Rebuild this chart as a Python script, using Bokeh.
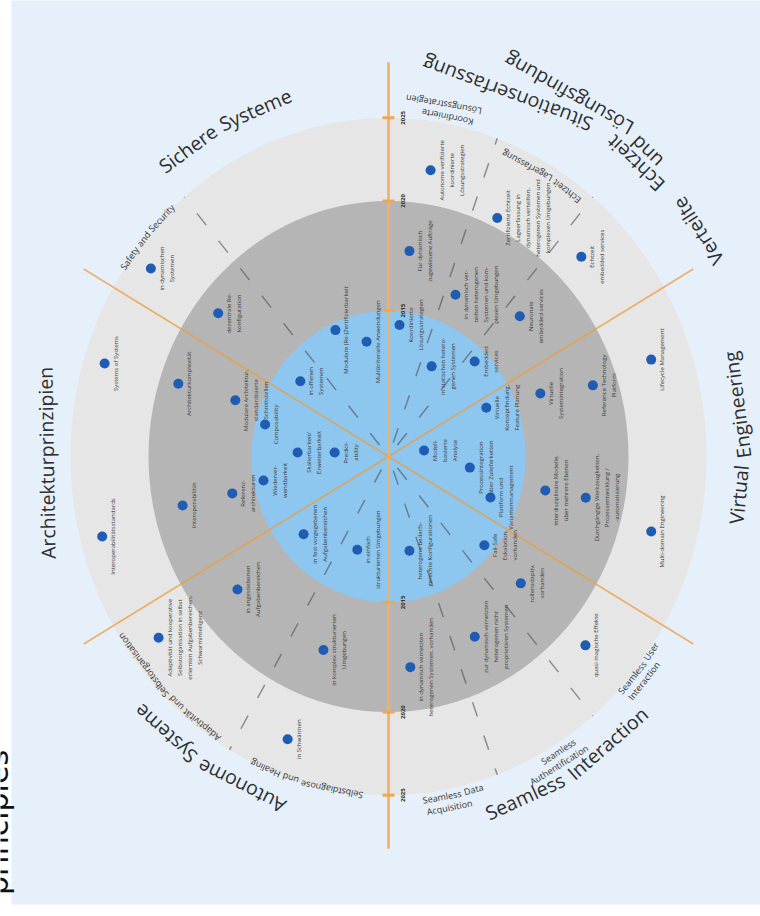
import math
import numpy as np
from bokeh.plotting import figure
from bokeh.models import Range1d
from bokeh.embed import file_html
from bokeh.resources import INLINE
from bokeh.core.properties import value

# ---------------- data ----------------
ring_years = ["2015", "2020", "2025"]
ring_radius = [137, 240, 318]

spoke_angles = [90, 150, 210, 270, 330, 30]
spoke_length = [370, 352, 352, 368, 352, 352]
dash_angles = [50, 70, 130, 240, 290, 310]

dot_angle = [81.1, 64.1, 44.2, 83.8, 66.2, 45.1, 84.9, 63.0, 46.0,
             25.1, 21.3, 18.1, 19.1, 8.9, -7.3, -20.7, -11.5, -11.1, -15.0,
             -41.0, -42.0, -76.7, -63.0, -83.7, -42.0,
             250.4, 220.7, 219.6, 250.3, 249.2, 216.5,
             190.2, 192.5, 192.6, 194.7, 176.0, 177.6, 166.3, 161.0, 162.0, 162.9,
             114.1, 101.5, 141.3, 141.7, 143.4]
dot_radius = [272, 249, 269, 194, 166, 186, 124, 95, 124,
              108, 163, 215, 278, 36, 82, 109, 160, 201, 272,
              127, 178, 91, 190, 199, 265,
              93, 112, 196, 193, 284, 286,
              127, 160, 211, 296, 54, 91, 127, 162, 221, 297,
              130, 110, 113, 217, 296]
dot_label = [
    "Autonome verifizierte\nkoordinierte\nLösungsstrategien",
    "Zertifizierte Echtzeit\nLageerfassung in\ndynamisch verteilten,\nheterogenen Systemen und\nkomplexen Umgebungen",
    "Echtzeit\nembedded services",
    "Für dynamisch\nzugewiesene Aufträge",
    "in dynamisch ver-\nteilten heterogenen\nSystemen und kom-\nplexen Umgebungen",
    "Neuronale\nembedded services",
    "Koordinierte\nLösungsstrategien",
    "in statischen hetero-\ngenen Systemen",
    "Embedded\nservices",
    "Virtuelle\nKonzeptfindung,\nFeature Planung",
    "Virtuelle\nSystemintegration",
    "Reference Technology\nPlatform",
    "Lifecycle Management",
    "Modell-\nbasierte\nAnalyse",
    "Prozessintegration\nüber Zulieferketten",
    "Plattform und\nVariantenmanagement",
    "Interdisziplinäre Modelle,\nüber mehrere Ebenen",
    "Durchgängige Werkzeugketten,\nProzessentwicklung /\n-automatisierung",
    "Multi-domain Engineering",
    "Fail-Safe\nEskalation,\nvorhanden",
    "rollenadaptiv,\nvorhanden",
    "heterogene bedarfs-\ngerechte Konfigurationen",
    "zur dynamisch vernetzten\nheterogenen nicht\nproprietären Systemen",
    "in dynamisch vernetzten\nheterogenen Systemen, vorhanden",
    "quasi magische Effekte",
    "in einfach\nstrukturierten Umgebungen",
    "in fest vorgegebenen\nAufgabenbereichen",
    "in angestiebenen\nAufgabenbereichen",
    "in komplex strukturierten\nUmgebungen",
    "in Schwärmen",
    "Adaptivität und kooperative\nSelbstorganisation in selbst\nerlernten Aufgabenbereichen,\nSchwarmintelligenz",
    "Wiederver-\nwendbarkeit",
    "Referenz-\narchitekturen",
    "Interoperabilität",
    "Interoperabilitätsstandards",
    "Predict-\nability",
    "Skalierbarkeit/\nErweiterbarkeit",
    "Composability",
    "Modulare Architektur,\nstandardisierte\nSchnittstellen",
    "Architekturkomplexität",
    "Systems of Systems",
    "Modulare (Re-)Zertifizierbarkeit",
    "Multikriterielle Anwendungen",
    "in offenen\nSystemen",
    "dezentrale Re-\nkonfiguration",
    "in dynamischen\nSystemen",
]

# curved titles, one entry per line:
# (text, radius, centre angle, ccw?, radius slope per degree, letter stretch)
title_lines = [
    ("Verteilte Echtzeit Situationserfassung", 366, 57.0, True, -0.4, 1.12),
    ("und Lösungsfindung", 385, 59.0, True, 0.0, 1.0),
    ("Sichere Systeme", 352, 118.1, False, 0.0, 1.0),
    ("Architekturprinzipien", 342, 181.0, False, 0.0, 1.0),
    ("Autonome Systeme", 343, 237.8, False, 0.0, 1.0),
    ("Seamless Interaction", 347, -58.3, True, 0.0, 1.0),
    ("Virtual Engineering", 352, 2.9, True, 0.0, 1.0),
]
sub_lines = [
    ("Koordinierte", 324, 79.5, True, 0.0, 1.0),
    ("Lösungsstrategien", 335, 80.5, True, 0.0, 1.0),
    ("Echtzeit Lagerfassung", 306, 59.8, True, 0.0, 1.0),
    ("Safety and Security", 319, 139.5, False, 0.0, 1.0),
    ("Adaptivität und Selbstorganisation", 314, 224.6, False, 0.0, 1.0),
    ("Selbstdiagnose und Healing", 318, 254.9, False, 0.0, 1.0),
    ("Seamless User", 320, -38.5, True, 0.0, 1.0),
    ("Interaction", 331, -39.5, True, 0.0, 1.0),
    ("Seamless", 325, -58.5, True, 0.0, 1.0),
    ("Authentification", 336, -59.5, True, 0.0, 1.0),
    ("Seamless Data", 324, -78.5, True, 0.0, 1.0),
    ("Acquisition", 335, -79.5, True, 0.0, 1.0),
]

# ---------------- geometry ----------------
W, H = 760, 916
CXP, CYP = 388, 456
K = 1.065
FONT = "Open Sans"

p = figure(width=W, height=H, x_range=Range1d(-CXP, W - CXP),
           y_range=Range1d(-(H - CYP) / K, CYP / K),
           output_backend="svg", toolbar_location=None, min_border=0)
p.axis.visible = False
p.grid.visible = False
p.outline_line_color = None
p.background_fill_color = "white"
p.border_fill_color = "white"

# panel
p.quad(left=[11 - CXP], right=[420], top=[480], bottom=[-(904 - CYP) / K],
       fill_color="#e6f0fa", line_color=None)

# rings
ring_colors = ["#8dc6ee", "#b5b5b5", "#e6e6e6"]
for r, c in sorted(zip(ring_radius, ring_colors), reverse=True):
    p.ellipse(x=[0], y=[0], width=[2 * r], height=[2 * r], fill_color=c, line_color=None)

# dashed rays (sub-topic separators)
da = np.radians(dash_angles)
p.segment(x0=14 * np.cos(da), y0=14 * np.sin(da), x1=ring_radius[-1] * np.cos(da),
          y1=ring_radius[-1] * np.sin(da), line_color="#505050", line_alpha=0.6,
          line_width=1.5, line_dash="15 20")

# spokes
sa = np.radians(spoke_angles)
sl = np.array(spoke_length)
p.segment(x0=np.zeros(len(sa)), y0=np.zeros(len(sa)), x1=sl * np.cos(sa), y1=sl * np.sin(sa),
          line_color="#ee9c3e", line_alpha=0.75, line_width=1.8)
p.segment(x0=[0, 0], y0=[0, 0], x1=[0, 0], y1=[spoke_length[0], -spoke_length[3]],
          line_color="#f4b165", line_alpha=0.8, line_width=3)
tick_y = ring_radius + [-r for r in ring_radius]
p.segment(x0=[-6] * 6, x1=[6] * 6, y0=tick_y, y1=tick_y, line_color="#f0a850", line_width=3)
p.text(x=[14] * 6, y=tick_y, text=ring_years + ring_years, angle=math.pi / 2,
       text_align="center", text_baseline="middle", text_font=value(FONT),
       text_font_size="6px", text_font_style="bold", text_color="#333333")

# dots + labels
dr = np.radians(dot_angle)
dx = np.array(dot_radius) * np.cos(dr)
dy = np.array(dot_radius) * np.sin(dr)
p.scatter(x=dx, y=dy, size=10, fill_color="#1f5cb4", line_color=None)
p.text(x=dx + 7, y=dy, text=dot_label, angle=math.pi / 2, text_align="center",
       text_baseline="top", text_font=value(FONT), text_font_size="6px",
       text_color="#3a3a3a", text_line_height=1.25)

# Open Sans advance widths (em)
CW = {'a': .556, 'b': .613, 'c': .48, 'd': .613, 'e': .561, 'f': .336, 'g': .546, 'h': .614,
      'i': .258, 'j': .258, 'k': .529, 'l': .258, 'm': .932, 'n': .614, 'o': .602, 'p': .613,
      'q': .613, 'r': .409, 's': .477, 't': .353, 'u': .614, 'v': .5, 'w': .776, 'x': .517,
      'y': .5, 'z': .468, 'ä': .556, 'ö': .602, 'ü': .614, 'A': .633, 'S': .549, 'V': .592,
      'E': .556, 'I': .279, 'L': .519, 'K': .6, 'D': .726, 'U': .724, 'C': .632, 'H': .738}


def tw(s, fs):
    return sum(CW.get(ch, 0.6) for ch in s) * fs


def arc_words(specs, fs):
    xs, ys, ts, angs = [], [], [], []
    for line, r0, thc, ccw, slope, stretch in specs:
        words = line.split(" ")
        widths = [tw(w, fs) * stretch for w in words]
        sp = 0.32 * fs * stretch
        total = sum(widths) + sp * (len(words) - 1)
        t = math.radians(thc)
        s = r0 * math.sqrt(math.sin(t) ** 2 + (K * math.cos(t)) ** 2)
        span = total / s
        sgn = 1 if ccw else -1
        start = t - sgn * span / 2
        off = 0.0
        for w, wd in zip(words, widths):
            th = start + sgn * (off + wd / 2) / s
            off += wd + sp
            r = r0 + slope * (math.degrees(th) - thc)
            xs.append(r * math.cos(th))
            ys.append(r * math.sin(th))
            ts.append(w)
            if ccw:
                angs.append(math.atan2(K * math.cos(th), -math.sin(th)))
            else:
                angs.append(math.atan2(-K * math.cos(th), math.sin(th)))
    return xs, ys, ts, angs


xs, ys, ts, angs = arc_words(title_lines, 19.5)
p.text(x=xs, y=ys, text=ts, angle=angs, text_align="center", text_baseline="middle",
       text_font=value(FONT), text_font_size="19.5px", text_color="#2e2e2e")
xs, ys, ts, angs = arc_words(sub_lines, 9)
p.text(x=xs, y=ys, text=ts, angle=angs, text_align="center", text_baseline="middle",
       text_font=value(FONT), text_font_size="9px", text_color="#333333")

# caption partly outside the left edge (as in the reference)
p.text(x=[-CXP + 0.5], y=[(CYP - 822) / K], text=["principles"], angle=math.pi / 2,
       x_offset=-4, text_align="center", text_baseline="middle",
       text_font=value("DejaVu Sans"), text_font_size="30px", text_color="#111111")

open("out.html", "w").write(file_html(p, INLINE))
